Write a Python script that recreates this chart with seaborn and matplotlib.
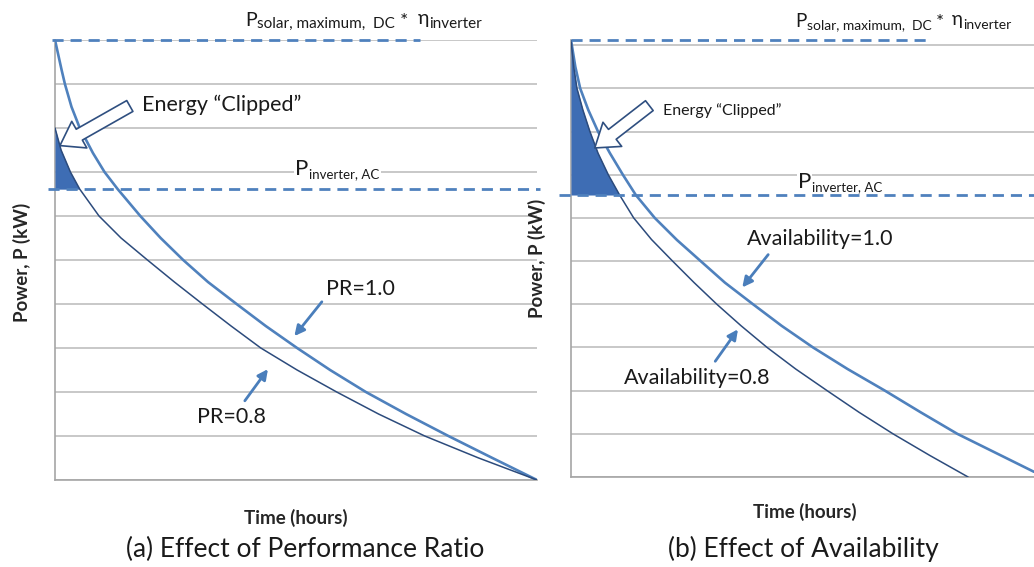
import numpy as np
import pandas as pd
import seaborn as sns
import matplotlib
matplotlib.use("Agg")
import matplotlib.pyplot as plt

# --- data (time in tick units, power in grid units) ---
pr10_t = [0, 0.12, 0.18, 0.3, 0.45, 0.69, 0.9, 1.14, 1.55, 1.92, 2.33, 2.78, 3.3,
          3.83, 4.4, 5.0, 5.65, 6.38, 7.15, 7.95, 8.76]
pr10_p = [10, 9.32, 9, 8.48, 8, 7.43, 7, 6.61, 6, 5.5, 5, 4.5, 4,
          3.5, 3, 2.5, 2, 1.5, 1, 0.5, 0]
pr08_t = [0, 0.11, 0.28, 0.45, 0.8, 1.2, 1.68, 2.17, 2.68, 3.2, 3.74, 4.4, 5.12,
          5.88, 6.72, 7.7, 8.76]
pr08_p = [8, 7.5, 7, 6.61, 6, 5.5, 5, 4.5, 4, 3.5, 3, 2.5, 2,
          1.5, 1, 0.5, 0]

av10_t = [0, 0.08, 0.17, 0.32, 0.5, 0.72, 0.96, 1.2, 1.55, 1.96, 2.4, 2.85, 3.37,
          3.9, 4.48, 5.12, 5.81, 6.47, 7.15, 8.57]
av10_p = [10.12, 9.5, 9, 8.5, 8, 7.5, 7, 6.53, 6, 5.49, 5, 4.5, 4,
          3.5, 3, 2.5, 2, 1.5, 1, 0.12]
av08_t = [0, 0.05, 0.11, 0.22, 0.35, 0.5, 0.69, 0.9, 1.16, 1.49, 1.88, 2.28, 2.7,
          3.15, 3.63, 4.16, 4.74, 5.33, 5.96, 6.64, 7.35]
av08_p = [10.12, 9.5, 9, 8.5, 8, 7.5, 7, 6.53, 6, 5.5, 5, 4.5, 4,
          3.5, 3, 2.5, 2, 1.5, 1, 0.5, 0]

inverter_level = [6.61, 6.53]   # left, right
solar_max_level = [10.0, 10.12]

LIGHT = "#4f81bd"
DARK = "#2c4b7c"
FILL = "#3e6db4"
ARROW = "#4a7ebb"
GRID = "#bfbfbf"

sns.set_style("white")
plt.rcParams["font.family"] = ["Lato", "DejaVu Sans"]
plt.rcParams["text.color"] = "#1a1a1a"

fig = plt.figure(figsize=(10.34, 5.67), dpi=100)
ax1 = fig.add_axes([55 / 1034, 1 - 480 / 567, 482 / 1034, 440 / 567])
ax2 = fig.add_axes([571 / 1034, 1 - 477 / 567, 463 / 1034, 437 / 567])


def style_axes(ax, xmax, ymax):
    ax.set_xlim(0, xmax)
    ax.set_ylim(0, ymax)
    ax.set_xticks(range(0, 9))
    ax.set_yticks(range(0, 11))
    ax.set_xticklabels([])
    ax.set_yticklabels([])
    ax.grid(axis="y", color=GRID, lw=1.2)
    ax.tick_params(axis="both", length=3, color="#a6a6a6", width=1)
    sns.despine(ax=ax)
    for s in ["left", "bottom"]:
        ax.spines[s].set_color("#a6a6a6")
        ax.spines[s].set_linewidth(1.2)
    ax.set_axisbelow(True)


def draw_panel(ax, t_hi, p_hi, t_lo, p_lo, inv, xmax, ymax):
    style_axes(ax, xmax, ymax)
    df_hi = pd.DataFrame({"t": t_hi, "p": p_hi})
    df_lo = pd.DataFrame({"t": t_lo, "p": p_lo})
    sns.lineplot(data=df_hi, x="t", y="p", ax=ax, color=LIGHT, lw=1.9,
                 errorbar=None, sort=False, zorder=4)
    sns.lineplot(data=df_lo, x="t", y="p", ax=ax, color=DARK, lw=1.1,
                 errorbar=None, sort=False, zorder=4)
    # clipped energy: part of the lower curve above the inverter limit
    tl = np.array(t_lo)
    pl = np.array(p_lo)
    m = pl >= inv
    ax.fill_between(tl[m], pl[m], inv, color=FILL, lw=0, zorder=3)
    ax.set_xlabel("")
    ax.set_ylabel("")


def sub_text(ax, x, y, parts, box=None):
    # chain of text pieces: (text, size, dx, dy) ; dy measured from bottom of first piece
    first = ax.text(x, y, parts[0][0], fontsize=parts[0][1], ha="left",
                    va="baseline", clip_on=False, bbox=box, zorder=3)
    prev = first
    for s, fs, dx, dy in parts[1:]:
        prev = ax.annotate(s, xy=(1, 0), xycoords=(prev, first),
                           xytext=(dx, dy), textcoords="offset points",
                           fontsize=fs, ha="left", va="baseline",
                           annotation_clip=False, bbox=box, zorder=3)


draw_panel(ax1, pr10_t, pr10_p, pr08_t, pr08_p, inverter_level[0], 8.76, 10)
draw_panel(ax2, av10_t, av10_p, av08_t, av08_p, inverter_level[1], 8.57, 10.12)

dash_kw = dict(color=LIGHT, lw=2, linestyles=(0, (4, 2.5)), clip_on=False, zorder=5)
ax1.hlines(solar_max_level[0], -0.05, 6.64, **dash_kw)
ax1.hlines(inverter_level[0], -0.13, 8.82, **dash_kw)
ax2.hlines(solar_max_level[1], 0, 6.65, **dash_kw)
ax2.hlines(inverter_level[1], -0.22, 8.57, **dash_kw)

top_left = [("P", 14, 0, 0), ("solar, maximum,  DC", 11, 0.5, 0.6),
            ("*", 14, 3, 1.2), ("η", 14, 7, 3.4), ("inverter", 11, 0.5, 0.6)]
top_right = [("P", 13.5, 0, 0), ("solar, maximum,  DC", 10, 0.5, 0.6),
             ("*", 13.5, 2.5, 1.2), ("η", 13.5, 6, 3.3), ("inverter", 10, 0.5, 0.6)]
inv_parts = [("P", 16, 0, 0), ("inverter, AC", 9.5, 0.5, 0.6)]
box = dict(fc="white", ec="none", pad=1)
sub_text(ax1, 3.45, 10.32, top_left)
sub_text(ax2, 4.15, 10.42, top_right)
sub_text(ax1, 4.36, 6.93, inv_parts, box=box)
sub_text(ax2, 4.2, 6.69, inv_parts, box=box)

# hollow block arrows pointing at the clipped area
hollow = dict(arrowstyle="simple,head_length=0.8,head_width=1.1,tail_width=0.45",
              fc="white", ec="#2f4f80", lw=1.2, mutation_scale=20,
              shrinkA=0, shrinkB=0)
ax1.annotate("", xy=(0.09, 7.6), xytext=(1.36, 8.5), arrowprops=hollow, zorder=6)
ax1.text(1.58, 8.52, "Energy “Clipped”", fontsize=15.5, ha="left", va="center")
ax2.annotate("", xy=(0.44, 7.62), xytext=(1.45, 8.6), arrowprops=hollow, zorder=6)
ax2.text(1.7, 8.48, "Energy “Clipped”", fontsize=11.5, ha="left", va="center")

thin = dict(arrowstyle="-|>", color=ARROW, lw=2, mutation_scale=15,
            shrinkA=0, shrinkB=0)
ax1.annotate("", xy=(4.35, 3.27), xytext=(4.85, 4.05), arrowprops=thin)
ax1.text(5.56, 4.34, "PR=1.0", fontsize=15.5, ha="center", va="center")
ax1.annotate("", xy=(3.87, 2.52), xytext=(3.45, 1.8), arrowprops=thin)
ax1.text(3.21, 1.43, "PR=0.8", fontsize=15.5, ha="center", va="center")

ax2.annotate("", xy=(3.17, 4.39), xytext=(3.65, 5.15), arrowprops=thin)
ax2.text(4.61, 5.52, "Availability=1.0", fontsize=15.5, ha="center", va="center")
ax2.annotate("", xy=(3.09, 3.42), xytext=(2.67, 2.68), arrowprops=thin)
ax2.text(2.33, 2.29, "Availability=0.8", fontsize=15.5, ha="center", va="center")

for ax, lx, ly in [(ax1, -0.05, 0.495), (ax2, -0.055, 0.5)]:
    ax.set_ylabel("Power, P (kW)", fontsize=13.5, fontweight="bold")
    ax.yaxis.set_label_coords(lx, ly)
ax1.set_xlabel("Time (hours)", fontsize=13.5, fontweight="bold")
ax1.xaxis.set_label_coords(0.5, -0.066)
ax2.set_xlabel("Time (hours)", fontsize=13.5, fontweight="bold")
ax2.xaxis.set_label_coords(0.505, -0.06)

fig.text(305 / 1034, 1 - 549 / 567, "(a) Effect of Performance Ratio",
         fontsize=19, ha="center", va="center")
fig.text(803 / 1034, 1 - 549 / 567, "(b) Effect of Availability",
         fontsize=19, ha="center", va="center")

fig.savefig("out.png", dpi=100)
